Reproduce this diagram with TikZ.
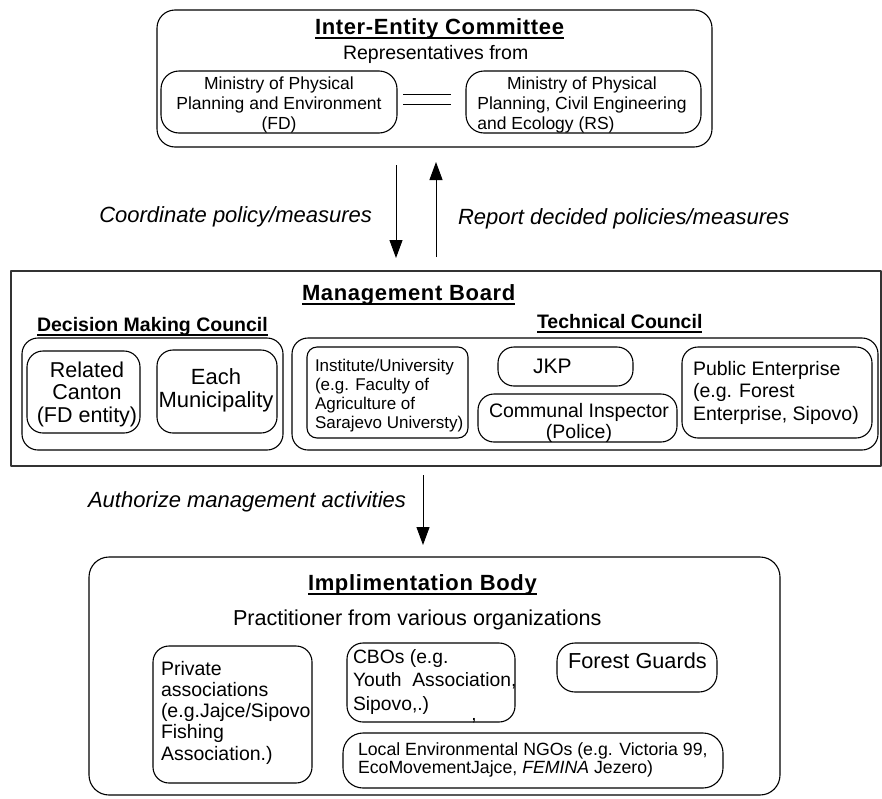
\documentclass[tikz,border=0pt]{standalone}
\usepackage{fontspec}
\setmainfont{Liberation Sans}
\newfontfamily\headfont[LetterSpace=3]{Liberation Sans}
\usetikzlibrary{arrows.meta,calc}

% font size / baseline skip in one go
\newcommand\fsz[2]{\fontsize{#1}{#2}\selectfont}
% heading underline that runs straight through the descenders
\newcommand\ulined[1]{\leavevmode\setbox0\hbox{#1}\rlap{\rule[-5pt]{\wd0}{1.7pt}}\box0}
% multi-line text whose reference point is the first baseline
\newcommand\stack[2][l]{\begin{tabular}[t]{@{}#1@{}}#2\end{tabular}}

\begin{document}
\begin{tikzpicture}[x=1pt,y=-1pt,line join=round,
  box/.style={draw,line width=1.1pt,inner sep=0pt,outer sep=0pt,anchor=north west},
  board/.style={draw=black!80,line width=1.5pt,inner sep=0pt,outer sep=0pt,anchor=north west},
  txt/.style={inner sep=0pt,outer sep=0pt},
  arr/.style={line width=1pt,-{Triangle[length=18pt,width=13pt]}},
  head/.style={txt,anchor=base west,font=\headfont\bfseries\fsz{22}{26}},
  sub/.style={txt,anchor=base west,font=\bfseries\fsz{19.5}{23}},
  flow/.style={txt,font=\itshape\fsz{22}{26}}]

\useasboundingbox (0,0) rectangle (882,798);

% ---------- Inter-Entity Committee ----------
\node[box,rounded corners=18pt,minimum width=555pt,minimum height=137pt] (ie) at (157,10) {};
\node[head] (ieT) at (315,34) {\ulined{Inter-Entity Committee}};
\node[txt,anchor=base west,font=\fsz{19.5}{22}] (rep) at (343,59) {Representatives from};

\node[box,rounded corners=18pt,minimum width=236pt,minimum height=62pt] (minFD) at (161,71) {};
\node[txt,anchor=base,font=\fsz{17.5}{20}] (minFDt) at (279,89)
  {\stack[c]{Ministry of Physical\\Planning and Environment\\(FD)}};

\node[box,rounded corners=18pt,minimum width=235pt,minimum height=62pt] (minRS) at (466,71) {};
\node[txt,anchor=base,font=\fsz{17.5}{20}] (minRSt) at (582,89)
  {\stack[c]{Ministry of Physical\\Planning, Civil Engineering\\
   \rlap{and Ecology (RS)}\phantom{Planning, Civil Engineering}}};

% equal sign between the two ministries
\draw[line width=1pt] ($(minFD.east)+(6,-8)$) -- ($(minRS.west)+(-15,-8)$);
\draw[line width=1pt] ($(minFD.east)+(6,2)$) -- ($(minRS.west)+(-15,2)$);

% ---------- Management Board ----------
\node[board,minimum width=870pt,minimum height=195pt] (mb) at (11,271) {};
\node[head] (mbT) at (302,300) {\ulined{Management Board}};

\node[sub] (dmcT) at (37,331) {\ulined{Decision Making Council}};
\node[sub] (tcT) at (537,328) {\ulined{Technical Council}};

\node[box,rounded corners=16pt,minimum width=261pt,minimum height=112pt] (dmc) at (22,338) {};
\node[box,rounded corners=16pt,minimum width=586pt,minimum height=112pt] (tc) at (292,338) {};

\node[box,rounded corners=16pt,minimum width=113pt,minimum height=82pt] (canton) at (27,351) {};
\node[txt,anchor=base,font=\fsz{21.5}{22.5}] (cantonT) at (87,377)
  {\stack[c]{Related\\Canton\\(FD entity)}};

\node[box,rounded corners=16pt,minimum width=120pt,minimum height=83pt] (muni) at (157,350) {};
\node[txt,anchor=base,font=\fsz{22}{23}] (muniT) at (216,384)
  {\stack[c]{Each\\Municipality}};

\node[box,rounded corners=10pt,minimum width=161pt,minimum height=91pt] (inst) at (307,347) {};
\node[txt,anchor=base west,font=\fsz{17}{19}] (instT) at (315,371)
  {\stack{Institute/University\\(e.g. Faculty of\\Agriculture of\\Sarajevo Universty)}};

\node[box,rounded corners=16pt,minimum width=135pt,minimum height=39pt] (jkp) at (498,347) {};
\node[txt,anchor=base west,font=\fsz{21}{24}] (jkpT) at (533,373) {JKP};

\node[box,rounded corners=16pt,minimum width=199pt,minimum height=48pt] (insp) at (478,394) {};
\node[txt,anchor=base,font=\fsz{19.5}{21}] (inspT) at (579,417)
  {\stack[c]{Communal Inspector\\(Police)}};

\node[box,rounded corners=16pt,minimum width=190pt,minimum height=91pt] (pe) at (682,347) {};
\node[txt,anchor=base west,font=\fsz{19.5}{22.5}] (peT) at (693,375)
  {\stack{Public Enterprise\\(e.g. Forest\\Enterprise, Sipovo)}};

% ---------- Implimentation Body ----------
\node[box,rounded corners=20pt,minimum width=691pt,minimum height=238pt] (ib) at (89,557) {};
\node[head] (ibT) at (308,590) {\ulined{Implimentation Body}};
\node[txt,anchor=base west,font=\fsz{21.6}{24}] (prac) at (233,625)
  {Practitioner from various organizations};

\node[box,rounded corners=16pt,minimum width=159pt,minimum height=137pt] (priv) at (153,646) {};
\node[txt,anchor=base west,font=\fsz{19.5}{21.3}] (privT) at (161,675)
  {\stack{Private\\associations\\(e.g.Jajce/Sipovo\\Fishing\\Association.)}};

\node[box,rounded corners=16pt,minimum width=168pt,minimum height=79pt] (cbo) at (347,643) {};
\node[txt,anchor=base west,font=\fsz{19.3}{23.5}] (cboT) at (353,663)
  {\stack{CBOs (e.g.\\Youth\ \ Association,\\Sipovo,.)}};
\node[txt,anchor=base,font=\fsz{19}{22}] (cboMark) at (474,720) {,};

\node[box,rounded corners=18pt,minimum width=160pt,minimum height=49pt] (fg) at (557,643) {};
\node[txt,anchor=base west,font=\fsz{21.7}{24}] (fgT) at (568,668) {Forest Guards};

\node[box,rounded corners=20pt,minimum width=380pt,minimum height=55pt] (ngo) at (343,733) {};
\node[txt,anchor=base west,font=\fsz{17.7}{18.5}] (ngoT) at (358,755)
  {\stack{Local Environmental NGOs (e.g. Victoria 99,\\EcoMovementJajce, \textit{FEMINA} Jezero)}};

% ---------- flows between the bodies ----------
\coordinate (dTop) at ($(ie.south)+(-38.5,18)$);
\coordinate (dBot) at (dTop |- mb.north);
\draw[arr,shorten >=13pt] (dTop) -- (dBot);

\coordinate (uBot) at ($(mb.north)+(-10,-14)$);
\coordinate (uTop) at (uBot |- ie.south);
\draw[arr,shorten >=15pt] (uBot) -- (uTop);

\coordinate (aTop) at ($(mb.south)+(-23,9)$);
\coordinate (aBot) at (aTop |- ib.north);
\draw[arr,shorten >=12pt] (aTop) -- (aBot);

\node[flow,anchor=base east] (coord) at (372,222) {Coordinate policy/measures};
\node[flow,anchor=base west] (report) at (458,224) {Report decided policies/measures};
\node[flow,anchor=base east] (auth) at (406,507) {Authorize management activities};

\end{tikzpicture}
\end{document}
